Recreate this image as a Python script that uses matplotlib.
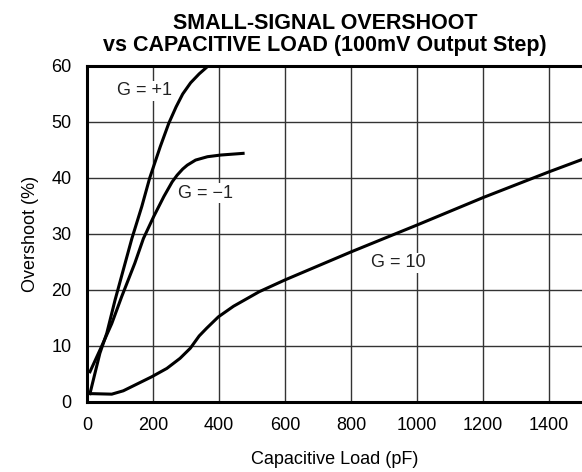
import matplotlib
matplotlib.use("Agg")
import matplotlib.pyplot as plt
import numpy as np

plt.rcParams['font.family'] = ['Liberation Sans', 'DejaVu Sans']

# Data
g1_x = [9, 39, 60, 85, 110, 136, 166, 190, 222, 248, 270, 290, 314, 340, 367]
g1_y = [1.5, 8.7, 12.3, 18.2, 23.6, 29.2, 34.9, 40.0, 45.6, 49.8, 52.7, 55.0, 57.0, 58.6, 60.0]

gm1_x = [9, 44, 75, 105, 145, 171, 202, 233, 258, 273, 290, 304, 329, 365, 405, 473]
gm1_y = [5.4, 9.9, 14.0, 18.8, 24.8, 29.2, 33.1, 36.7, 39.3, 40.5, 41.6, 42.3, 43.2, 43.8, 44.1, 44.4]

g10_x = [9, 75, 110, 196, 242, 282, 313, 340, 363, 398, 444, 522, 600, 800, 1000, 1200, 1400, 1500]
g10_y = [1.5, 1.4, 2.0, 4.5, 6.0, 7.8, 9.6, 11.8, 13.2, 15.2, 17.1, 19.7, 21.8, 26.8, 31.6, 36.5, 41.1, 43.3]

x_ticks = [0, 200, 400, 600, 800, 1000, 1200, 1400]
y_ticks = [0, 10, 20, 30, 40, 50, 60]

labels = ["G = +1", "G = \u22121", "G = 10"]
label_pos = [(92, 55.6), (275, 37.3), (860, 24.9)]

fig = plt.figure(figsize=(5.82, 4.72), dpi=100)
ax = fig.add_axes([87/582, 1 - 402/472, (582 - 87)/582, (402 - 66)/472])

ax.set_xlim(0, 1500)
ax.set_ylim(0, 60)
ax.set_xticks(x_ticks)
ax.set_yticks(y_ticks)
ax.tick_params(length=0, labelsize=13, pad=11, colors='black')

ax.grid(True, color='#333333', linewidth=1.0)
ax.set_axisbelow(True)

for s in ['left', 'bottom', 'top']:
    ax.spines[s].set_linewidth(2.2)
ax.spines['right'].set_visible(False)

for xs, ys in [(g1_x, g1_y), (gm1_x, gm1_y), (g10_x, g10_y)]:
    ax.plot(xs, ys, color='black', linewidth=2.2, solid_joinstyle='round', clip_on=True)

for t, (x, y) in zip(labels, label_pos):
    ax.text(x, y, t, fontsize=13, ha='left', va='center', color='#222222',
            bbox=dict(facecolor='white', edgecolor='none', pad=1.0))

ax.set_xlabel("Capacitive Load (pF)", fontsize=13, labelpad=12)
ax.set_ylabel("Overshoot (%)", fontsize=13, labelpad=9)

fig.text(325/582, 1 - 29/472, "SMALL-SIGNAL OVERSHOOT",
         ha='center', va='baseline', fontsize=15.5, fontweight='bold')
fig.text(325/582, 1 - 51/472, "vs CAPACITIVE LOAD (100mV Output Step)",
         ha='center', va='baseline', fontsize=15.5, fontweight='bold')

fig.savefig("out.png", dpi=100)
